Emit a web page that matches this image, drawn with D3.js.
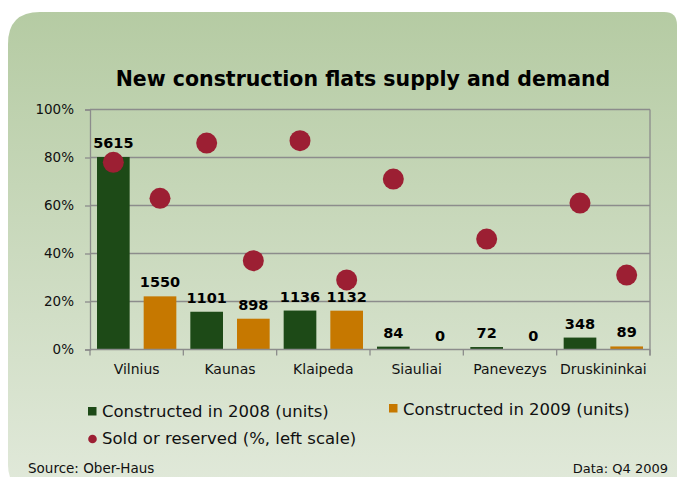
<!DOCTYPE html>
<html>
<head>
<meta charset="utf-8">
<script src="https://d3js.org/d3.v7.min.js"></script>
<style>
  body { margin: 0; background: #fff; }
  text { font-family: "DejaVu Sans", Verdana, sans-serif; }
</style>
</head>
<body>
<div id="chart"></div>
<script>
// DATA
var cities = ["Vilnius", "Kaunas", "Klaipeda", "Siauliai", "Panevezys", "Druskininkai"];
var built2008 = [5615, 1101, 1136, 84, 72, 348];
var built2009 = [1550, 898, 1132, 0, 0, 89];
var sold2008 = [78, 86, 87, 71, 46, 61];
var sold2009 = [63, 37, 29, null, null, 31];
var pctTicks = [0, 20, 40, 60, 80, 100];

// SET UP
var W = 677, H = 477;
var margin = {top: 109.5, right: 27, bottom: 127.5, left: 90},
    width = W - margin.left - margin.right,
    height = H - margin.top - margin.bottom;

var svg = d3.select("#chart").append("svg")
    .attr("width", W)
    .attr("height", H);

// background panel with the green gradient
var defs = svg.append("defs");
var grad = defs.append("linearGradient")
    .attr("id", "bg")
    .attr("x1", 0).attr("y1", 0).attr("x2", 0).attr("y2", 1);
grad.append("stop").attr("offset", "0%").attr("stop-color", "#b5cba3");
grad.append("stop").attr("offset", "100%").attr("stop-color", "#e1e9da");

svg.append("path")
    .attr("d", "M8,44 Q8,12 40,12 H664 Q677,12 677,25 V490 H33 Q8,490 8,465 Z")
    .attr("fill", "url(#bg)");

// title
svg.append("text")
    .attr("x", 363)
    .attr("y", 86)
    .attr("text-anchor", "middle")
    .attr("font-size", "20.5px")
    .attr("font-weight", "bold")
    .attr("fill", "#000")
    .text("New construction flats supply and demand");

var g = svg.append("g")
    .attr("transform", "translate(" + margin.left + "," + margin.top + ")");

// SCALES
var x0 = d3.scaleBand().domain(cities).range([0, width]);
var x1 = d3.scaleBand().domain([0, 1]).range([7, x0.bandwidth() - 7]).paddingInner(0.3);
var yPct = d3.scaleLinear().domain([0, 100]).range([height, 0]);
// hidden secondary scale for the unit bars
var yUnits = d3.scaleLinear().domain([0, 7000]).range([height, 0]);

// gridlines
g.append("g")
    .selectAll("line")
    .data(pctTicks.slice(1))
    .join("line")
    .attr("x1", 0).attr("x2", width)
    .attr("y1", d => yPct(d)).attr("y2", d => yPct(d))
    .attr("stroke", "#8c8c8c")
    .attr("stroke-width", 1.3);

// right border of plot area
g.append("line")
    .attr("x1", width).attr("x2", width)
    .attr("y1", 0).attr("y2", height + 6)
    .attr("stroke", "#8c8c8c")
    .attr("stroke-width", 1.3);

// Y axis
var yAxis = g.append("g")
    .call(d3.axisLeft(yPct).tickValues(pctTicks).tickSize(5).tickPadding(11).tickFormat(d => d + "%"));
yAxis.select(".domain").attr("stroke", "#8c8c8c").attr("stroke-width", 1.3);
yAxis.selectAll(".tick line").attr("stroke", "#8c8c8c").attr("stroke-width", 1.3);
yAxis.selectAll(".tick text")
    .attr("font-size", "13.5px")
    .attr("font-family", "DejaVu Sans, sans-serif")
    .attr("fill", "#111");

// X axis: ticks at category boundaries
var bounds = d3.range(cities.length + 1).map(i => i * x0.step());
g.append("g")
    .selectAll("line")
    .data(bounds)
    .join("line")
    .attr("x1", d => d).attr("x2", d => d)
    .attr("y1", height).attr("y2", height + 6)
    .attr("stroke", "#8c8c8c")
    .attr("stroke-width", 1.3);

// bars
var series = [built2008, built2009];
var barColors = ["#1d4a17", "#c67800"];
series.forEach(function(vals, s) {
    g.append("g")
        .selectAll("rect")
        .data(vals)
        .join("rect")
        .attr("x", (d, i) => x0(cities[i]) + x1(s))
        .attr("y", d => yUnits(d))
        .attr("width", x1.bandwidth())
        .attr("height", d => height - yUnits(d))
        .attr("fill", barColors[s]);

    g.append("g")
        .selectAll("text")
        .data(vals)
        .join("text")
        .attr("x", (d, i) => x0(cities[i]) + x1(s) + x1.bandwidth() / 2)
        .attr("y", d => Math.min(yUnits(d) - 9, height - 5))
        .attr("text-anchor", "middle")
        .attr("font-size", "14.5px")
        .attr("font-weight", "bold")
        .attr("fill", "#000")
        .text(d => d);
});

// x axis line on top of bars
g.append("line")
    .attr("x1", 0).attr("x2", width)
    .attr("y1", height).attr("y2", height)
    .attr("stroke", "#8c8c8c")
    .attr("stroke-width", 1.3);

// sold or reserved dots
var sold = [sold2008, sold2009];
sold.forEach(function(vals, s) {
    g.append("g")
        .selectAll("circle")
        .data(vals.map((v, i) => ({v: v, i: i})).filter(d => d.v !== null))
        .join("circle")
        .attr("cx", d => x0(cities[d.i]) + x1(s) + x1.bandwidth() / 2)
        .attr("cy", d => yPct(d.v))
        .attr("r", 10.5)
        .attr("fill", "#9c1f33");
});

// category labels
g.append("g")
    .selectAll("text")
    .data(cities)
    .join("text")
    .attr("x", d => x0(d) + x0.bandwidth() / 2)
    .attr("y", height + 24)
    .attr("text-anchor", "middle")
    .attr("font-size", "14px")
    .attr("fill", "#111")
    .text(d => d);

// LEGEND
var legend = svg.append("g");
legend.append("rect").attr("x", 88).attr("y", 407).attr("width", 8.5).attr("height", 8.5).attr("fill", barColors[0]);
legend.append("text").attr("x", 102).attr("y", 417).attr("font-size", "16.5px").attr("fill", "#111")
    .text("Constructed in 2008 (units)");
legend.append("rect").attr("x", 389).attr("y", 404).attr("width", 8.5).attr("height", 8.5).attr("fill", barColors[1]);
legend.append("text").attr("x", 403).attr("y", 415).attr("font-size", "16.5px").attr("fill", "#111")
    .text("Constructed in 2009 (units)");
legend.append("circle").attr("cx", 92.5).attr("cy", 439).attr("r", 4.3).attr("fill", "#9c1f33");
legend.append("text").attr("x", 102).attr("y", 444).attr("font-size", "16.5px").attr("fill", "#111")
    .text("Sold or reserved (%, left scale)");

// footer
svg.append("text").attr("x", 28).attr("y", 473).attr("font-size", "13.5px").attr("fill", "#111")
    .text("Source: Ober-Haus");
svg.append("text").attr("x", 668).attr("y", 473).attr("text-anchor", "end").attr("font-size", "13px").attr("fill", "#111")
    .text("Data: Q4 2009");
</script>
</body>
</html>
